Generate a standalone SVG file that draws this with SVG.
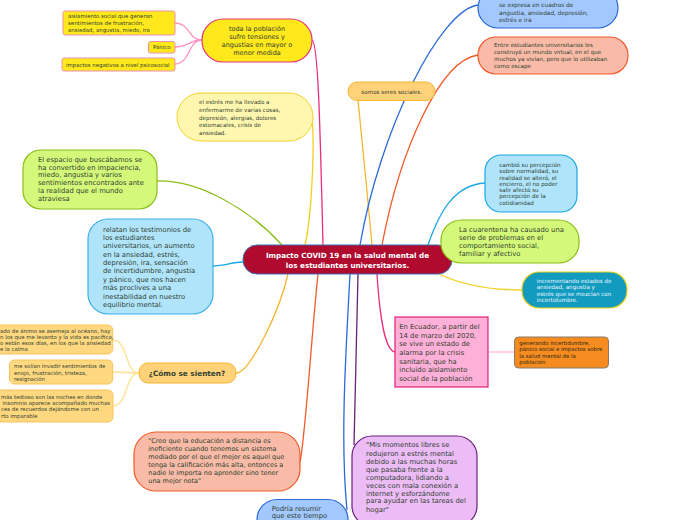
<svg xmlns="http://www.w3.org/2000/svg" width="696" height="520" viewBox="0 0 696 520">
<style>
text{font-family:"DejaVu Sans","Liberation Sans",sans-serif;fill:#2f3f2f}
.s54{font-size:5.4px}.s56{font-size:5.6px}.s58{font-size:5.8px}.s65{font-size:6.5px}.s68{font-size:6.8px}
.c{text-anchor:middle}
.ln{fill:none;stroke-width:1.3}
.yel{fill:#ffe81c;stroke:#f090b0;stroke-width:1}
.lor{fill:#ffd880;stroke:#f7c45a;stroke-width:1}
</style>
<rect width="696" height="520" fill="#ffffff"/>
<g id="connectors">
<path class="ln" stroke="#ff8fbf" d="M175,23 C190,23 188,40 202,40 M175,47 C188,47 190,40 202,40 M175,64 C190,64 188,40 202,40"/>
<path class="ln" stroke="#ffe090" d="M113,340 C128,340 125,373 139,373 M113,372 C125,372 128,373 139,373 M113,406 C128,406 125,373 139,373"/>
<path class="ln" stroke="#ffb6d8" d="M489,352 L514,352"/>
<path class="ln" stroke="#e8307a" d="M312,40 C318,42 320,120 323,245"/>
<path class="ln" stroke="#f0d020" d="M312,118 C315,150 311,220 305,245"/>
<path class="ln" stroke="#f5b731" d="M358,100 C362,140 368,200 372,245"/>
<path class="ln" stroke="#2a6ad6" d="M478,5 C440,10 380,130 360,245"/>
<path class="ln" stroke="#f05a28" d="M478,55 C440,60 400,150 382,245"/>
<path class="ln" stroke="#1aa6e6" d="M485,183 C455,185 440,210 428,245"/>
<path class="ln" stroke="#8cbd18" d="M441,245 C445,246 448,250 450,253"/>
<path class="ln" stroke="#f0d020" d="M435,272 C460,285 490,290 522,290"/>
<path class="ln" stroke="#e8307a" d="M377,274 C380,320 385,350 395,352"/>
<path class="ln" stroke="#6a1f7a" d="M358,274 C356,350 355,400 354,445"/>
<path class="ln" stroke="#2a6ad6" d="M350,274 C346,350 340,440 347,510"/>
<path class="ln" stroke="#f05a28" d="M300,462 C305,440 312,330 318,274"/>
<path class="ln" stroke="#f5b731" d="M236,373 C250,373 280,310 288,274"/>
<path class="ln" stroke="#1aa6e6" d="M212,266 C225,266 232,262 243,262"/>
<path class="ln" stroke="#8cbd18" d="M157,181 C200,180 250,210 282,245"/>
</g>
<g id="center">
<rect x="243" y="245" width="209" height="29" rx="14" fill="#b00b2e" stroke="#3b6fb5" stroke-width="1"/>
<text x="347.5" y="258" class="c" style="font-size:7.2px;font-weight:bold;fill:#ffffff">Impacto COVID 19 en la salud mental de</text>
<text x="347.5" y="268" class="c" style="font-size:7.2px;font-weight:bold;fill:#ffffff">los estudiantes universitarios.</text>
</g>
<g id="n-toda">
<rect x="202" y="19" width="110" height="43" rx="21" fill="#ffe81c" stroke="#e8307a" stroke-width="1.2"/>
<text class="s65 c" x="257" y="30.5">toda la población</text>
<text class="s65 c" x="257" y="38.5">sufre tensiones y</text>
<text class="s65 c" x="257" y="46.5">angustias en mayor o</text>
<text class="s65 c" x="257" y="54.5">menor medida</text>
</g>
<g id="n-aislamiento">
<rect class="yel" x="63" y="11" width="112" height="24" rx="2"/>
<text class="s54" x="68" y="18">aislamiento social que generan</text>
<text class="s54" x="68" y="25">sentimientos de frustración,</text>
<text class="s54" x="68" y="32">ansiedad, angustia, miedo, ira</text>
</g>
<g id="n-panico">
<rect class="yel" x="148.5" y="41.5" width="26.5" height="11.5" rx="2"/>
<text class="s54 c" x="161.8" y="49.3">Pánico</text>
</g>
<g id="n-impactos">
<rect class="yel" x="62" y="58" width="113" height="13" rx="2"/>
<text class="s54" x="66" y="66.5">impactos negativos a nivel psicosocial</text>
</g>
<g id="n-expresa">
<rect x="478" y="-12" width="140" height="40" rx="20" fill="#a3c8ff" stroke="#2a6ad6" stroke-width="1.2"/>
<text class="s58" x="499" y="7">se expresa en cuadros de</text>
<text class="s58" x="499" y="14.7">angustia, ansiedad, depresión,</text>
<text class="s58" x="499" y="22.2">estrés e ira</text>
</g>
<g id="n-entre">
<rect x="478" y="37" width="150" height="37" rx="18" fill="#f9bba8" stroke="#f05a28" stroke-width="1.2"/>
<text class="s56" x="494" y="47.3">Entre estudiantes universitarios les</text>
<text class="s56" x="494" y="54.3">construyó un mundo virtual, en el que</text>
<text class="s56" x="494" y="61.3">muchos ya vivían, pero que lo utilizaban</text>
<text class="s56" x="494" y="68">como escape</text>
</g>
<g id="n-estres">
<rect x="177" y="93" width="136" height="48" rx="24" fill="#fff7b0" stroke="#f2d22a" stroke-width="1"/>
<text class="s56" x="199" y="104.3">el estrés me ha llevado a</text>
<text class="s56" x="199" y="112">enfermarme de varias cosas,</text>
<text class="s56" x="199" y="120">depresión, alergias, dolores</text>
<text class="s56" x="199" y="127">estomacales, crisis de</text>
<text class="s56" x="199" y="134.7">ansiedad.</text>
</g>
<g id="n-somos">
<rect x="348" y="82" width="87" height="18.5" rx="9" fill="#ffd27a" stroke="#f5b731" stroke-width="1"/>
<text class="s56 c" x="391.7" y="94.3">somos seres sociales.</text>
</g>
<g id="n-espacio">
<rect x="23" y="150" width="134" height="59" rx="18" fill="#d4f97a" stroke="#8cbd18" stroke-width="1.2"/>
<text class="s68" x="38" y="162.4">El espacio que buscábamos se</text>
<text class="s68" x="38" y="169.8">ha convertido en impaciencia,</text>
<text class="s68" x="38" y="177.4">miedo, angustia y varios</text>
<text class="s68" x="38" y="185.1">sentimientos encontrados ante</text>
<text class="s68" x="38" y="193">la realidad que el mundo</text>
<text class="s68" x="38" y="200.7">atraviesa</text>
</g>
<g id="n-relatan">
<rect x="88" y="219" width="125" height="95" rx="20" fill="#b0e4fb" stroke="#3ab0e8" stroke-width="1.2"/>
<text class="s68" x="103" y="231.5">relatan los testimonios de</text>
<text class="s68" x="103" y="239.9">los estudiantes</text>
<text class="s68" x="103" y="248.2">universitarios, un aumento</text>
<text class="s68" x="103" y="256.6">en la ansiedad, estrés,</text>
<text class="s68" x="103" y="265">depresión, ira, sensación</text>
<text class="s68" x="103" y="273.3">de incertidumbre, angustia</text>
<text class="s68" x="103" y="281.7">y pánico, que nos hacen</text>
<text class="s68" x="103" y="290.1">más proclives a una</text>
<text class="s68" x="103" y="298.5">inestabilidad en nuestro</text>
<text class="s68" x="103" y="306.8">equilibrio mental.</text>
</g>
<g id="n-cambio">
<rect x="485" y="155" width="92" height="57" rx="16" fill="#b0e4fb" stroke="#1aa6e6" stroke-width="1.2"/>
<text class="s56" x="499.3" y="167">cambió su percepción</text>
<text class="s56" x="499.3" y="173.2">sobre normalidad, su</text>
<text class="s56" x="499.3" y="179.5">realidad se alteró, el</text>
<text class="s56" x="499.3" y="185.8">encierro, el no poder</text>
<text class="s56" x="499.3" y="192.1">salir afectó su</text>
<text class="s56" x="499.3" y="198.4">percepción de la</text>
<text class="s56" x="499.3" y="204.7">cotidianidad</text>
</g>
<g id="n-cuarentena">
<rect x="441" y="220" width="138" height="43" rx="20" fill="#d4f97a" stroke="#8cbd18" stroke-width="1.2"/>
<text class="s68" x="459" y="232.4">La cuarentena ha causado una</text>
<text class="s68" x="459" y="240.1">serie de problemas en el</text>
<text class="s68" x="459" y="248.1">comportamiento social,</text>
<text class="s68" x="459" y="255.7">familiar y afectivo</text>
</g>
<g id="n-incrementando">
<rect x="522" y="272" width="105" height="36" rx="17" fill="#129bbf" stroke="#e9d21f" stroke-width="1.2"/>
<text class="s56" x="536.7" y="283" style="fill:#eaf6ff">incrementando estados de</text>
<text class="s56" x="536.7" y="289.2" style="fill:#eaf6ff">ansiedad, angustia y</text>
<text class="s56" x="536.7" y="296" style="fill:#eaf6ff">estrés que se mezclan con</text>
<text class="s56" x="536.7" y="302.2" style="fill:#eaf6ff">incertidumbre.</text>
</g>
<g id="n-ecuador">
<rect x="395" y="317" width="93" height="70" fill="#ffb0d8" stroke="#e0207a" stroke-width="1.2"/>
<text class="s68" x="399.3" y="329.1">En Ecuador, a partir del</text>
<text class="s68" x="399.3" y="337.7">14 de marzo del 2020,</text>
<text class="s68" x="399.3" y="346.4">se vive un estado de</text>
<text class="s68" x="399.3" y="355.1">alarma por la crisis</text>
<text class="s68" x="399.3" y="363.7">sanitaria, que ha</text>
<text class="s68" x="399.3" y="372.4">incluido aislamiento</text>
<text class="s68" x="399.3" y="381.1">social de la población</text>
</g>
<g id="n-generando">
<rect x="514.5" y="337" width="94" height="31" rx="4" fill="#f68b1f" stroke="#8a7a6a" stroke-width="1"/>
<text class="s54" x="519.3" y="345.2" style="fill:#2a2a1a">generando incertidumbre,</text>
<text class="s54" x="519.3" y="351.3" style="fill:#2a2a1a">pánico social e impactos sobre</text>
<text class="s54" x="519.3" y="357.9" style="fill:#2a2a1a">la salud mental de la</text>
<text class="s54" x="519.3" y="364.2" style="fill:#2a2a1a">población</text>
</g>
<g id="n-como">
<rect x="139" y="363" width="97" height="20" rx="9" fill="#ffd27a" stroke="#f5b731" stroke-width="1"/>
<text class="c" x="187" y="375.5" style="font-size:7.3px;font-weight:bold">¿Cómo se sienten?</text>
</g>
<g id="n-oceano">
<rect class="lor" x="-6" y="325" width="118.7" height="29" rx="5"/>
<text class="s54" x="0" y="332.6">ado de ánimo se asemeja al océano, hay</text>
<text class="s54" x="0" y="339.2">n los que me levanto y la vida es pacífica,</text>
<text class="s54" x="0" y="345.2">o están esos días, en los que la ansiedad</text>
<text class="s54" x="0" y="351.2">e la calma</text>
</g>
<g id="n-solian">
<rect class="lor" x="9.5" y="360" width="103.2" height="24" rx="5"/>
<text class="s54" x="14" y="367.6">me solían invadir sentimientos de</text>
<text class="s54" x="14" y="374.6">enojo, frustración, tristeza,</text>
<text class="s54" x="14" y="381.2">resignación</text>
</g>
<g id="n-noches">
<rect class="lor" x="-6" y="390" width="119" height="32" rx="5"/>
<text class="s54" x="1" y="398.6">más tedioso son las noches en donde</text>
<text class="s54" x="2.5" y="404.6">insomnio aparece acompañado muchas</text>
<text class="s54" x="1" y="411.2">ces de recuerdos dejándome con un</text>
<text class="s54" x="1" y="417.9">rto imparable</text>
</g>
<g id="n-creo">
<rect x="134" y="432" width="166" height="59" rx="22" fill="#f9bba8" stroke="#f05a28" stroke-width="1.2"/>
<text class="s65" x="148.3" y="443.3">"Creo que la educación a distancia es</text>
<text class="s65" x="148.3" y="451.3">ineficiente cuando tenemos un sistema</text>
<text class="s65" x="148.3" y="459">mediado por el que el mejor es aquel que</text>
<text class="s65" x="148.3" y="466.6">tenga la calificación más alta, entonces a</text>
<text class="s65" x="148.3" y="474.6">nadie le importa no aprender sino tener</text>
<text class="s65" x="148.3" y="482.6">una mejor nota"</text>
</g>
<g id="n-momentos">
<rect x="352" y="436" width="125" height="90" rx="20" fill="#ecbcf6" stroke="#6a1f7a" stroke-width="1.2"/>
<text class="s68" x="366" y="447.4">"Mis momentos libres se</text>
<text class="s68" x="366" y="455.7">redujeron a estrés mental</text>
<text class="s68" x="366" y="464.1">debido a las muchas horas</text>
<text class="s68" x="366" y="472.1">que pasaba frente a la</text>
<text class="s68" x="366" y="479.7">computadora, lidiando a</text>
<text class="s68" x="366" y="487.7">veces con mala conexión a</text>
<text class="s68" x="366" y="495.7">internet y esforzándome</text>
<text class="s68" x="366" y="503.4">para ayudar en las tareas del</text>
<text class="s68" x="366" y="511.7">hogar"</text>
</g>
<g id="n-podria">
<rect x="257" y="499.5" width="91" height="40" rx="20" fill="#a3c8ff" stroke="#2a6ad6" stroke-width="1.2"/>
<text class="s68" x="271.7" y="511.2">Podría resumir</text>
<text class="s68" x="271.7" y="518.4">que este tiempo</text>
</g>
</svg>
